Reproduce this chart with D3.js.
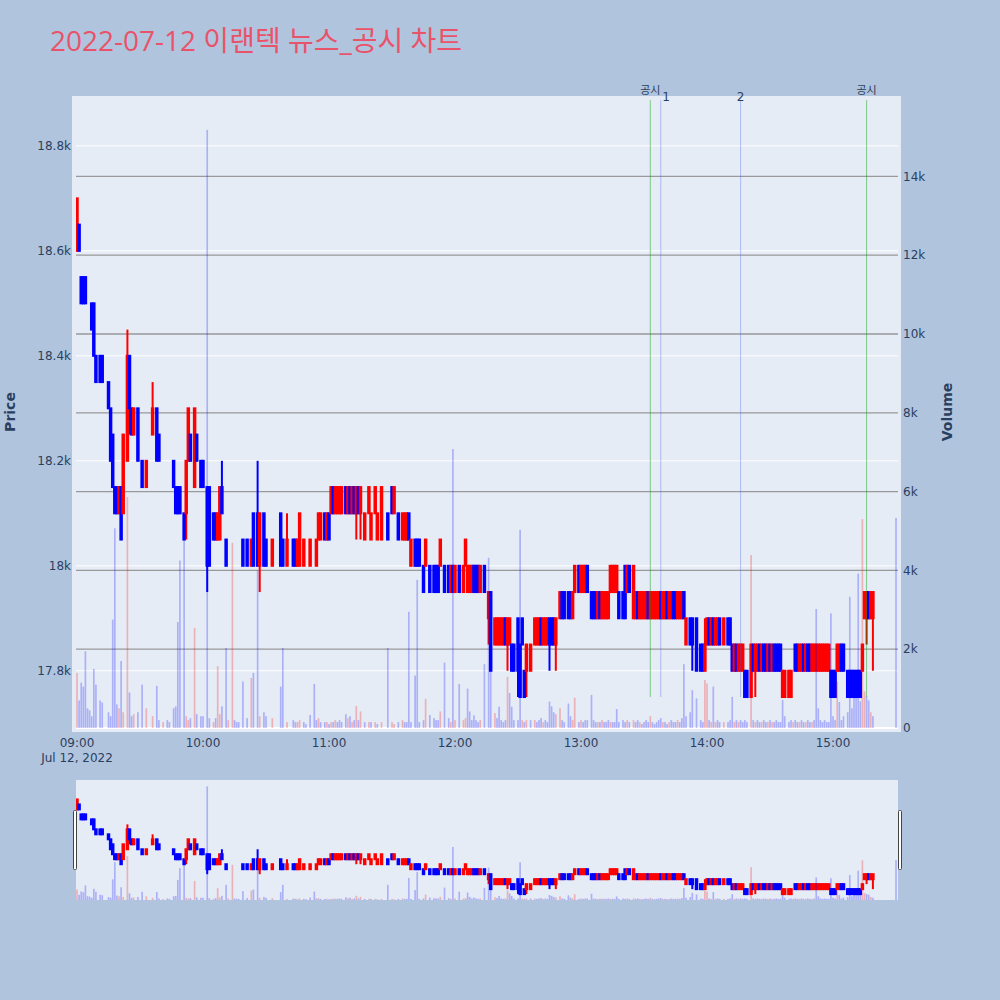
<!DOCTYPE html>
<html><head><meta charset="utf-8">
<script src="https://cdn.jsdelivr.net/npm/d3@7"></script>
<style>body{margin:0;background:#b0c4de}svg{display:block}</style>
</head><body>
<svg id="chart" width="1000" height="1000"></svg>
<script>
// ---------------- DATA ----------------
const chartTitle = "2022-07-12 이랜텍 뉴스_공시 차트";
const sessionStart = "2022-07-12 09:00";
// [minute after 09:00, open, high, low, close, volume]
const candles09 = [
[0,18600,18700,18600,18700,1400],[1,18650,18650,18600,18600,700],[2,18550,18550,18500,18500,1150],
[3,18550,18550,18500,18500,1050],[4,18550,18550,18500,18500,1950],[5,18500,18500,18500,18500,500],
[6,18500,18500,18500,18500,450],[7,18500,18500,18450,18450,300],[8,18500,18500,18400,18400,1500],
[9,18400,18400,18350,18350,1100],[11,18400,18400,18350,18350,700],[12,18400,18400,18350,18350,650],
[15,18350,18350,18300,18300,400],[16,18300,18300,18200,18200,300],[17,18250,18250,18150,18150,2750],
[18,18150,18150,18100,18100,5070],[19,18150,18150,18100,18100,600],[20,18100,18150,18100,18150,500],
[21,18150,18150,18050,18050,1700],[22,18100,18250,18100,18250,400],[24,18200,18450,18200,18400,5860],
[25,18400,18400,18250,18300,900],[26,18300,18300,18250,18250,300],[27,18250,18300,18250,18300,350],
[29,18300,18300,18200,18200,400],[31,18200,18200,18150,18150,1100],[33,18150,18200,18150,18200,500],
[36,18250,18350,18250,18300,300],[38,18300,18300,18200,18200,1070],[39,18250,18250,18200,18200,200],
[41,18250,18250,18250,18250,150],[43,18200,18200,18200,18200,200],[44,18200,18200,18200,18200,150],
[46,18200,18200,18150,18150,500],[47,18150,18150,18100,18100,550],[48,18150,18150,18100,18100,2690],
[49,18150,18150,18100,18100,4250],[51,18100,18100,18050,18050,4770],[52,18100,18200,18050,18200,300],
[53,18200,18300,18200,18300,200],[54,18250,18250,18200,18200,250],[56,18150,18300,18150,18300,2540],
[57,18250,18250,18200,18200,350],[59,18200,18200,18150,18150,300]
];
const candles10 = [
[60,18200,18200,18150,18150,300],[62,18150,18150,17950,18000,15180],[63,18150,18150,18000,18000,250],
[65,18100,18100,18050,18050,150],[66,18100,18100,18050,18050,250],[67,18050,18100,18050,18100,1570],
[68,18050,18150,18050,18150,350],[69,18150,18200,18100,18100,550],[71,18050,18050,18000,18000,2030],
[72,18050,18050,18050,18050,200],[74,18100,18100,18100,18100,4700],[75,18050,18050,18050,18050,200],
[76,18050,18050,18050,18050,150],[77,18050,18050,18050,18050,150],[79,18050,18050,18000,18000,1180],
[81,18050,18050,18000,18000,250],[83,18000,18050,18000,18050,1270],[84,18100,18100,18000,18000,1400],
[86,18100,18200,18000,18000,4000],[87,18000,18100,17950,18100,300],[89,18100,18100,18000,18000,400],
[90,18050,18050,18000,18000,300],[93,18000,18050,18000,18050,250],[97,18100,18100,18000,18000,1050],
[98,18050,18050,18000,18000,2030],[100,18000,18100,18000,18050,150],[103,18050,18050,18000,18000,200],
[104,18050,18050,18000,18000,150],[105,18000,18050,18000,18050,150],[106,18000,18100,18000,18100,200],
[108,18000,18050,18000,18050,150],[109,18050,18050,18050,18050,100],[111,18000,18050,18000,18050,330],
[113,18050,18050,18050,18050,1120],[114,18000,18050,18000,18050,200],[115,18050,18100,18050,18100,250],
[116,18050,18100,18050,18100,150],[118,18100,18100,18050,18050,150],[119,18050,18100,18050,18100,150]
];
const candles11 = [
[120,18100,18100,18050,18050,100],[121,18100,18150,18100,18150,150],[122,18150,18150,18100,18100,150],
[123,18100,18150,18100,18150,200],[124,18100,18150,18100,18150,150],[125,18100,18150,18100,18150,200],
[126,18100,18150,18100,18150,150],[128,18150,18150,18100,18100,350],[129,18100,18150,18100,18150,250],
[130,18150,18150,18100,18100,300],[131,18100,18150,18100,18150,150],[132,18150,18150,18100,18100,200],
[133,18100,18150,18050,18150,560],[134,18150,18150,18100,18100,200],[135,18100,18150,18050,18150,420],
[137,18050,18100,18050,18100,150],[139,18100,18150,18100,18150,150],[140,18050,18100,18050,18100,150],
[142,18100,18150,18100,18150,150],[143,18050,18100,18050,18100,100],[145,18050,18150,18050,18150,150],
[148,18100,18100,18050,18050,2030],[150,18150,18150,18100,18100,150],[151,18100,18150,18100,18150,100],
[153,18100,18100,18050,18050,150],[155,18050,18100,18050,18100,200],[156,18050,18100,18050,18100,150],
[157,18050,18100,18050,18100,150],[158,18100,18100,18050,18050,2950],[159,18000,18050,18000,18050,150],
[161,18050,18050,18000,18000,1330],[162,18050,18050,18000,18000,3760],[163,18050,18050,18000,18000,150],
[165,18000,18000,17950,17950,200],[166,18000,18050,18000,18050,740],[168,18000,18000,17950,17950,330],
[170,18000,18000,17950,17950,250],[171,18000,18000,17950,17950,200],[172,18000,18000,17950,17950,200],
[173,18000,18050,18000,18050,420],[175,18000,18000,17950,17950,1660],[177,18000,18000,17950,17950,250],
[178,17950,18000,17950,18000,150],[179,18000,18000,17950,17950,7080]
];
const candles12 = [
[180,17950,18000,17950,18000,200],[182,18000,18000,17950,17950,1120],[184,17950,18000,17950,18000,200],
[185,18000,18050,18000,18050,250],[186,17950,18000,17950,18000,1000],[187,17950,18000,17950,18000,420],
[188,17950,18000,17950,18000,200],[189,18000,18000,17950,17950,320],[190,18000,18000,17950,17950,200],
[191,18000,18000,17950,17950,150],[192,17950,18000,17950,18000,200],[194,18000,18000,17950,17950,1620],
[196,17900,17950,17850,17950,4320],[197,17950,17950,17800,17800,1560],[199,17850,17900,17850,17900,380],
[200,17850,17900,17850,17900,250],[201,17850,17900,17850,17900,540],[202,17850,17900,17850,17900,200],
[203,17850,17900,17850,17900,150],[204,17900,17900,17850,17850,200],[205,17850,17900,17800,17900,1300],
[206,17850,17900,17850,17900,890],[207,17850,17850,17800,17800,540],[208,17850,17850,17800,17800,200],
[210,17900,17900,17750,17800,200],[211,17850,17850,17750,17750,5030],[212,17900,17900,17850,17850,200],
[213,17800,17800,17750,17750,150],[214,17800,17850,17750,17850,200],[216,17800,17850,17800,17850,200],
[218,17850,17900,17850,17900,200],[219,17850,17900,17850,17900,150],[220,17850,17900,17850,17900,200],
[221,17900,17900,17850,17850,250],[222,17850,17900,17850,17900,150],[223,17850,17900,17850,17900,200],
[224,17850,17900,17850,17900,150],[225,17900,17900,17800,17850,670],[226,17900,17900,17850,17850,550],
[227,17900,17900,17850,17850,400],[228,17850,17900,17800,17900,350],[230,17900,17950,17900,17950,500],
[231,17950,17950,17900,17900,200],[232,17950,17950,17900,17900,150],[234,17950,17950,17900,17900,620],
[235,17950,17950,17900,17900,300],[236,17900,17950,17900,17950,200],[237,17950,18000,17950,18000,770],
[239,18000,18000,17950,17950,150]
];
const candles13 = [
[240,17950,18000,17950,18000,200],[241,17950,18000,17950,18000,150],[242,17950,18000,17950,18000,200],
[243,18000,18000,17950,17950,200],[245,17950,17950,17900,17900,840],[246,17950,17950,17900,17900,200],
[247,17950,17950,17900,17900,150],[248,17900,17950,17900,17950,150],[249,17950,17950,17900,17900,150],
[250,17900,17950,17900,17950,200],[251,17900,17950,17900,17950,150],[252,17900,17950,17900,17950,150],
[253,17900,17950,17900,17950,200],[254,17950,18000,17950,18000,150],[255,17950,18000,17950,18000,150],
[256,17950,18000,17950,18000,150],[257,17950,18000,17950,18000,480],[258,17950,17950,17900,17900,150],
[260,17950,17950,17900,17900,200],[261,18000,18000,17900,17900,150],[262,17950,18000,17950,18000,200],
[263,18000,18000,17950,17950,150],[265,17900,18000,17900,18000,200],[266,17900,17950,17900,17950,150],
[267,17950,17950,17900,17900,200],[268,17900,17950,17900,17950,150],[269,17900,17950,17900,17950,100],
[270,17900,17950,17900,17950,150],[271,17900,17950,17900,17950,200],[272,17950,17950,17900,17900,150],
[273,17900,17950,17900,17950,300],[274,17900,17950,17900,17950,150],[275,17900,17950,17900,17950,100],
[276,17900,17950,17900,17950,150],[277,17900,17950,17900,17950,200],[278,17950,17950,17900,17900,250],
[279,17900,17950,17900,17950,150],[280,17900,17950,17900,17950,150],[281,17950,17950,17900,17900,100],
[282,17900,17950,17900,17950,150],[283,17900,17950,17900,17950,200],[284,17950,17950,17900,17900,150],
[285,17950,17950,17900,17900,150],[286,17900,17950,17900,17950,200],[287,17900,17950,17900,17950,150],
[288,17900,17950,17900,17950,250],[289,17950,17950,17900,17900,1620],[290,17850,17900,17850,17900,300],
[292,17900,17900,17850,17850,400],[293,17900,17900,17800,17850,960],[295,17900,17900,17800,17800,750],
[297,17850,17850,17800,17800,200],[298,17850,17850,17800,17800,150],[299,17800,17900,17800,17850,1220]
];
const candles14 = [
[300,17850,17900,17850,17900,1130],[301,17900,17900,17850,17850,200],[302,17850,17900,17850,17900,150],
[303,17900,17900,17850,17850,1050],[304,17850,17900,17850,17900,150],[305,17850,17900,17850,17900,200],
[306,17900,17900,17850,17850,150],[308,17850,17900,17850,17900,150],[310,17900,17900,17850,17850,150],
[311,17900,17900,17850,17850,200],[312,17850,17850,17800,17800,790],[313,17800,17850,17800,17850,150],
[314,17850,17850,17800,17800,200],[315,17800,17850,17800,17850,150],[316,17800,17850,17800,17850,200],
[317,17800,17850,17800,17850,150],[318,17800,17800,17750,17750,200],[319,17800,17800,17750,17750,150],
[321,17750,17850,17750,17850,4390],[322,17850,17850,17800,17800,200],[323,17800,17850,17750,17850,150],
[324,17800,17850,17800,17850,200],[325,17850,17850,17800,17800,150],[326,17800,17850,17800,17850,150],
[327,17850,17850,17800,17800,200],[328,17850,17850,17800,17800,150],[329,17800,17850,17800,17850,150],
[330,17850,17850,17800,17800,200],[331,17800,17850,17800,17850,150],[332,17850,17850,17800,17800,150],
[333,17850,17850,17800,17800,200],[334,17850,17850,17800,17800,150],[335,17850,17850,17800,17800,150],
[336,17750,17800,17750,17800,710],[337,17750,17800,17750,17800,300],[339,17750,17800,17750,17800,150],
[340,17750,17800,17750,17800,200],[341,17850,17850,17850,17850,150],[342,17850,17850,17800,17800,200],
[343,17850,17850,17800,17800,150],[344,17800,17850,17800,17850,150],[345,17800,17850,17800,17850,200],
[346,17850,17850,17800,17800,150],[347,17800,17850,17800,17850,150],[348,17850,17850,17800,17800,200],
[349,17850,17850,17800,17800,150],[350,17800,17850,17800,17850,150],[351,17800,17850,17800,17850,200],
[352,17800,17850,17800,17850,3020],[353,17800,17850,17800,17850,500],[354,17800,17850,17800,17850,200],
[355,17800,17850,17800,17850,150],[356,17800,17850,17800,17850,200],[357,17800,17850,17800,17850,150],
[358,17800,17850,17800,17850,150],[359,17800,17800,17750,17750,2910]
];
const candles15 = [
[360,17800,17800,17750,17750,300],[361,17800,17800,17750,17750,200],[362,17800,17850,17800,17850,1180],
[363,17800,17850,17800,17850,660],[364,17850,17850,17800,17800,200],[365,17850,17850,17800,17800,300],
[367,17800,17800,17750,17750,400],[368,17800,17800,17750,17750,3330],[369,17800,17800,17750,17750,500],
[370,17800,17800,17750,17750,800],[371,17800,17800,17750,17750,1000],[372,17800,17800,17750,17750,3920],
[373,17800,17800,17750,17750,680],[374,17800,17850,17800,17850,5300],[375,17900,17950,17900,17950,930],
[376,17900,17950,17850,17950,800],[377,17950,17950,17900,17900,700],[378,17900,17950,17900,17950,400],
[379,17900,17950,17800,17950,300],[390,17950,17950,17950,17950,5330]
];
const priceTicks = [17800, 18000, 18200, 18400, 18600, 18800];
const priceTickLabels = ["17.8k", "18k", "18.2k", "18.4k", "18.6k", "18.8k"];
const volumeTicks = [0, 2000, 4000, 6000, 8000, 10000, 12000, 14000];
const volumeTickLabels = ["0", "2k", "4k", "6k", "8k", "10k", "12k", "14k"];
const timeTicks = ["09:00", "10:00", "11:00", "12:00", "13:00", "14:00", "15:00"];
const markerTimes = ["13:33", "13:38", "14:16", "15:16"];
const markerLabels = ["공시", "1", "2", "공시"];
const markerKinds = ["disclosure", "news", "news", "disclosure"];

// ---------------- BUILD ----------------
const parse = d3.timeParse("%Y-%m-%d %H:%M");
const t0 = parse(sessionStart);
const day = sessionStart.slice(0, 10);
const toDate = m => d3.timeMinute.offset(t0, m);
const rows = [].concat(candles09, candles10, candles11, candles12, candles13, candles14, candles15);
const data = [];
rows.forEach((r, i) => {
  const prev = i > 0 ? data[i - 1] : null;
  let up;
  if (r[4] !== r[1]) up = r[4] > r[1];
  else if (prev && r[4] !== prev.c) up = r[4] > prev.c;
  else up = prev ? prev.up : true;
  const volUp = prev ? r[4] > prev.c : up;
  data.push({t: toDate(r[0]), o: r[1], h: r[2], l: r[3], c: r[4], v: r[5], up, volUp});
});

const RED = "#ff0000", BLUE = "#0000ff";
const svg = d3.select("#chart");
const font = "Verdana, 'DejaVu Sans', 'Noto Sans CJK KR', sans-serif";
const titleFont = "'Open Sans', 'Noto Sans CJK KR', sans-serif";
const textColor = "#2a3f5f";

const L = 76, R = 898, T = 96, B = 728;
const sT = 780, sB = 900;

const x = d3.scaleTime().domain([d3.timeSecond.offset(t0, -29), d3.timeSecond.offset(toDate(390), 57)]).range([L, R]);
const yP = d3.scaleLinear().domain([17691, 18895]).range([B, T]);
const yV = d3.scaleLinear().domain([0, 16040]).range([B, T]);
const yPs = d3.scaleLinear().domain(yP.domain()).range([sB, sT]);
const yVs = d3.scaleLinear().domain(yV.domain()).range([sB, sT]);
const pxPerMin = x(toDate(1)) - x(toDate(0));
const boxW = pxPerMin * 0.7, barW = pxPerMin * 0.8;

const defs = svg.append("defs");
defs.append("clipPath").attr("id", "clipMain").append("rect").attr("x", L).attr("y", T).attr("width", R - L).attr("height", B - T);
defs.append("clipPath").attr("id", "clipSlider").append("rect").attr("x", L).attr("y", sT).attr("width", R - L).attr("height", sB - sT);

// main background
svg.append("rect").attr("x", 72).attr("y", T).attr("width", 901 - 72).attr("height", 732 - T).attr("fill", "#e5ecf6");

// price grid (white)
svg.append("g").selectAll("line").data(priceTicks).join("line")
  .attr("x1", L).attr("x2", R).attr("y1", d => yP(d)).attr("y2", d => yP(d))
  .attr("stroke", "#ffffff").attr("stroke-width", 1);
// volume grid (gray)
svg.append("g").selectAll("line").data(volumeTicks.filter(d => d > 0)).join("line")
  .attr("x1", L).attr("x2", R).attr("y1", d => yV(d)).attr("y2", d => yV(d))
  .attr("stroke", "#999999").attr("stroke-width", 1.3);
svg.append("line").attr("x1", L).attr("x2", R).attr("y1", yV(0)).attr("y2", yV(0))
  .attr("stroke", "#ffffff").attr("stroke-width", 2);

function drawCandles(g, ys) {
  const cg = g.append("g");
  cg.selectAll("line").data(data).join("line")
    .attr("x1", d => x(d.t)).attr("x2", d => x(d.t))
    .attr("y1", d => ys(d.h)).attr("y2", d => ys(d.l))
    .attr("stroke", d => d.up ? RED : BLUE).attr("stroke-width", 2);
  cg.selectAll("rect").data(data).join("rect")
    .attr("x", d => x(d.t) - boxW / 2).attr("width", boxW)
    .attr("y", d => ys(Math.max(d.o, d.c)))
    .attr("height", d => Math.abs(ys(d.o) - ys(d.c)))
    .attr("fill", d => d.up ? RED : BLUE)
    .attr("stroke", d => d.up ? RED : BLUE).attr("stroke-width", 2);
}
function drawVolume(g, ys) {
  g.append("g").selectAll("rect").data(data).join("rect")
    .attr("x", d => x(d.t) - barW / 2).attr("width", barW)
    .attr("y", d => ys(d.v)).attr("height", d => ys(0) - ys(d.v))
    .attr("fill", d => d.volUp ? RED : BLUE).attr("fill-opacity", 0.25);
}

const main = svg.append("g").attr("clip-path", "url(#clipMain)");
drawCandles(main, yP);
drawVolume(main, yV);

// event marker lines
const lineTop = d3.max(data, d => d.h) * 1.01;
const lineBottom = d3.min(data, d => d.l);
const markers = markerTimes.map((s, i) => ({t: parse(day + " " + s), label: markerLabels[i], kind: markerKinds[i]}));
main.append("g").selectAll("line").data(markers).join("line")
  .attr("x1", d => x(d.t)).attr("x2", d => x(d.t))
  .attr("y1", yP(lineTop)).attr("y2", yP(lineBottom))
  .attr("stroke", d => d.kind === "disclosure" ? "rgba(0,150,0,0.45)" : "rgba(60,90,230,0.35)")
  .attr("stroke-width", 1);
svg.append("g").selectAll("text").data(markers).join("text")
  .attr("x", (d, i) => x(d.t) + (d.kind === "news" && i > 0 && markers[i - 1].kind === "disclosure" &&
        (x(d.t) - x(markers[i - 1].t)) < 14 ? 1.5 : 0))
  .attr("y", d => d.kind === "disclosure" ? 94 : 101)
  .attr("text-anchor", (d, i) => (d.kind === "news" && i > 0 && markers[i - 1].kind === "disclosure" &&
        (x(d.t) - x(markers[i - 1].t)) < 14) ? "start" : "middle")
  .attr("font-family", font).attr("font-size", d => d.kind === "disclosure" ? 11 : 12)
  .attr("fill", textColor).text(d => d.label);

// y axes labels
svg.append("g").selectAll("text").data(priceTicks).join("text")
  .attr("x", 71).attr("y", d => yP(d)).attr("dy", "0.35em").attr("text-anchor", "end")
  .attr("font-family", font).attr("font-size", 12).attr("fill", textColor)
  .text((d, i) => priceTickLabels[i]);
svg.append("g").selectAll("text").data(volumeTicks).join("text")
  .attr("x", 903).attr("y", d => yV(d)).attr("dy", "0.35em").attr("text-anchor", "start")
  .attr("font-family", font).attr("font-size", 12).attr("fill", textColor)
  .text((d, i) => volumeTickLabels[i]);
// x axis
svg.append("g").selectAll("text").data(timeTicks).join("text")
  .attr("x", d => x(parse(day + " " + d))).attr("y", 747).attr("text-anchor", "middle")
  .attr("font-family", font).attr("font-size", 12).attr("fill", textColor)
  .text(d => d);
svg.append("text").attr("x", x(t0)).attr("y", 762).attr("text-anchor", "middle")
  .attr("font-family", font).attr("font-size", 12).attr("fill", textColor)
  .text(d3.timeFormat("%b %-d, %Y")(t0));
// axis titles
svg.append("text").attr("transform", "translate(15," + ((T + B) / 2) + ") rotate(-90)")
  .attr("text-anchor", "middle").attr("font-family", font).attr("font-size", 14)
  .attr("font-weight", "bold").attr("fill", textColor).text("Price");
svg.append("text").attr("transform", "translate(952," + ((T + B) / 2) + ") rotate(-90)")
  .attr("text-anchor", "middle").attr("font-family", font).attr("font-size", 14)
  .attr("font-weight", "bold").attr("fill", textColor).text("Volume");

// range slider
svg.append("rect").attr("x", L).attr("y", sT).attr("width", R - L).attr("height", sB - sT).attr("fill", "#e5ecf6");
const sl = svg.append("g").attr("clip-path", "url(#clipSlider)");
drawCandles(sl, yPs);
drawVolume(sl, yVs);
[L - 2, R + 1].forEach(hx => {
  svg.append("rect").attr("x", hx - 0.5).attr("y", 810.5).attr("width", 3).attr("height", 59)
    .attr("fill", "#ffffff").attr("stroke", "#444444").attr("stroke-width", 1).attr("rx", 1);
});

// title
svg.append("text").attr("x", 50).attr("y", 51).attr("font-family", titleFont).attr("font-size", 28)
  .attr("fill", "#e9536a").text(chartTitle);
</script>
</body></html>
